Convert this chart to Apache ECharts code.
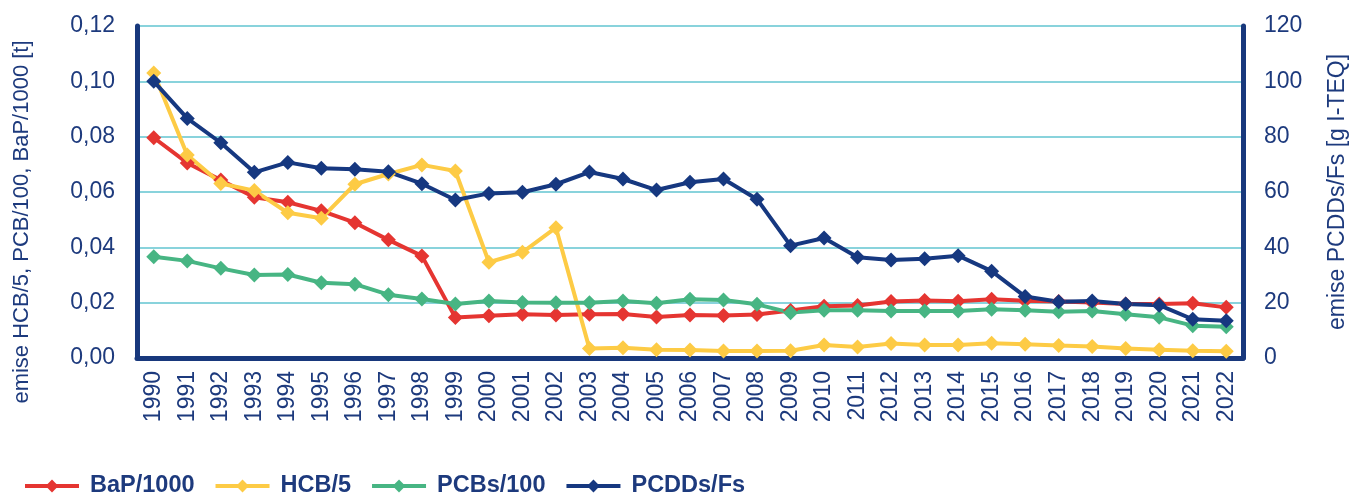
<!DOCTYPE html>
<html><head><meta charset="utf-8">
<script src="https://cdn.jsdelivr.net/npm/echarts@6/dist/echarts.min.js"></script>
<style>html,body{margin:0;padding:0;background:#fff}#c{width:1350px;height:495px}</style>
</head><body><div id="c"></div>
<script>
const years = ['1990','1991','1992','1993','1994','1995','1996','1997','1998','1999','2000','2001','2002','2003','2004','2005','2006','2007','2008','2009','2010','2011','2012','2013','2014','2015','2016','2017','2018','2019','2020','2021','2022'];
const bap = [0.0796,0.0705,0.0643,0.0581,0.0563,0.0532,0.0489,0.0427,0.0369,0.0146,0.0153,0.0158,0.0155,0.0158,0.0159,0.0148,0.0155,0.0154,0.0157,0.0172,0.0187,0.0190,0.0204,0.0208,0.0205,0.0212,0.0207,0.0204,0.0201,0.0195,0.0195,0.0198,0.0183];
const hcb = [0.1030,0.0734,0.0631,0.0605,0.0525,0.0505,0.0628,0.0665,0.0698,0.0676,0.0346,0.0382,0.0471,0.0034,0.0037,0.0030,0.0029,0.0025,0.0025,0.0026,0.0047,0.0040,0.0052,0.0047,0.0047,0.0053,0.0050,0.0045,0.0042,0.0034,0.0030,0.0026,0.0024];
const pcb = [0.0366,0.0351,0.0324,0.0300,0.0302,0.0272,0.0267,0.0229,0.0213,0.0195,0.0206,0.0201,0.0200,0.0200,0.0206,0.0198,0.0212,0.0210,0.0194,0.0164,0.0173,0.0173,0.0170,0.0170,0.0170,0.0176,0.0173,0.0167,0.0170,0.0158,0.0147,0.0117,0.0113];
const pcdd = [100.0,86.6,77.8,67.1,70.7,68.6,68.2,67.3,63.0,57.1,59.5,59.9,62.8,67.2,64.7,60.7,63.5,64.7,57.4,40.6,43.4,36.4,35.4,35.9,37.0,31.4,22.2,20.3,20.6,19.5,19.1,14.0,13.5];
const leftTicks = ['0,00','0,02','0,04','0,06','0,08','0,10','0,12'];
const rightTicks = ['0','20','40','60','80','100','120'];
const leftName = 'emise HCB/5, PCB/100, BaP/1000 [t]';
const rightName = 'emise PCDDs/Fs [g I-TEQ]';

const navy = '#18387c';
const txt = '#1d3a7d';
const chart = echarts.init(document.getElementById('c'));
function s(name, data, color, axis){
  return {name, type:'line', data, yAxisIndex:axis, symbol:'diamond', symbolSize:15,
    lineStyle:{color, width:4}, itemStyle:{color}, animation:false};
}
chart.setOption({
  animation:false,
  textStyle:{fontFamily:'Liberation Sans, Arial, sans-serif'},
  grid:{left:137, right:107, top:26, bottom:137, containLabel:false, outerBoundsMode:'none'},
  legend:{left:23, top:474, padding:0, itemWidth:54, itemHeight:16, itemGap:19,
    lineStyle:{width:4},
    textStyle:{color:txt, fontSize:23.5, fontWeight:'bold', fontFamily:'Liberation Sans, Arial, sans-serif', padding:[0,0,0,6]},
    data:['BaP/1000','HCB/5','PCBs/100','PCDDs/Fs']},
  graphic:[
    {type:'text', x:22, y:222, rotation:Math.PI/2,
     style:{text:leftName, fill:txt, fontSize:22, fontFamily:'Liberation Sans, Arial, sans-serif', align:'center', verticalAlign:'middle'}},
    {type:'text', x:1338, y:192, rotation:Math.PI/2,
     style:{text:rightName, fill:txt, fontSize:23, fontFamily:'Liberation Sans, Arial, sans-serif', align:'center', verticalAlign:'middle'}}
  ],
  xAxis:{type:'category', data:years, boundaryGap:true,
    axisLine:{lineStyle:{color:navy, width:5}}, axisTick:{show:false},
    axisLabel:{rotate:90, color:txt, fontSize:23, margin:13}},
  yAxis:[
    {type:'value', min:0, max:0.12, interval:0.02, position:'left',
     axisLine:{show:true, lineStyle:{color:navy, width:5}}, axisTick:{show:false},
     axisLabel:{color:txt, fontSize:23, margin:22, formatter:(v)=>leftTicks[Math.round(v/0.02)]},
     splitLine:{lineStyle:{color:'#62c4d0', width:1.5}}},
    {type:'value', min:0, max:120, interval:20, position:'right',
     axisLine:{show:true, lineStyle:{color:navy, width:5}}, axisTick:{show:false},
     axisLabel:{color:txt, fontSize:23, margin:21, formatter:(v)=>rightTicks[Math.round(v/20)]},
     splitLine:{show:false}}
  ],
  series:[
    s('BaP/1000', bap, '#e53531', 0),
    s('HCB/5', hcb, '#fdcb45', 0),
    s('PCBs/100', pcb, '#47b583', 0),
    s('PCDDs/Fs', pcdd, '#163880', 1)
  ]
});
</script></body></html>
